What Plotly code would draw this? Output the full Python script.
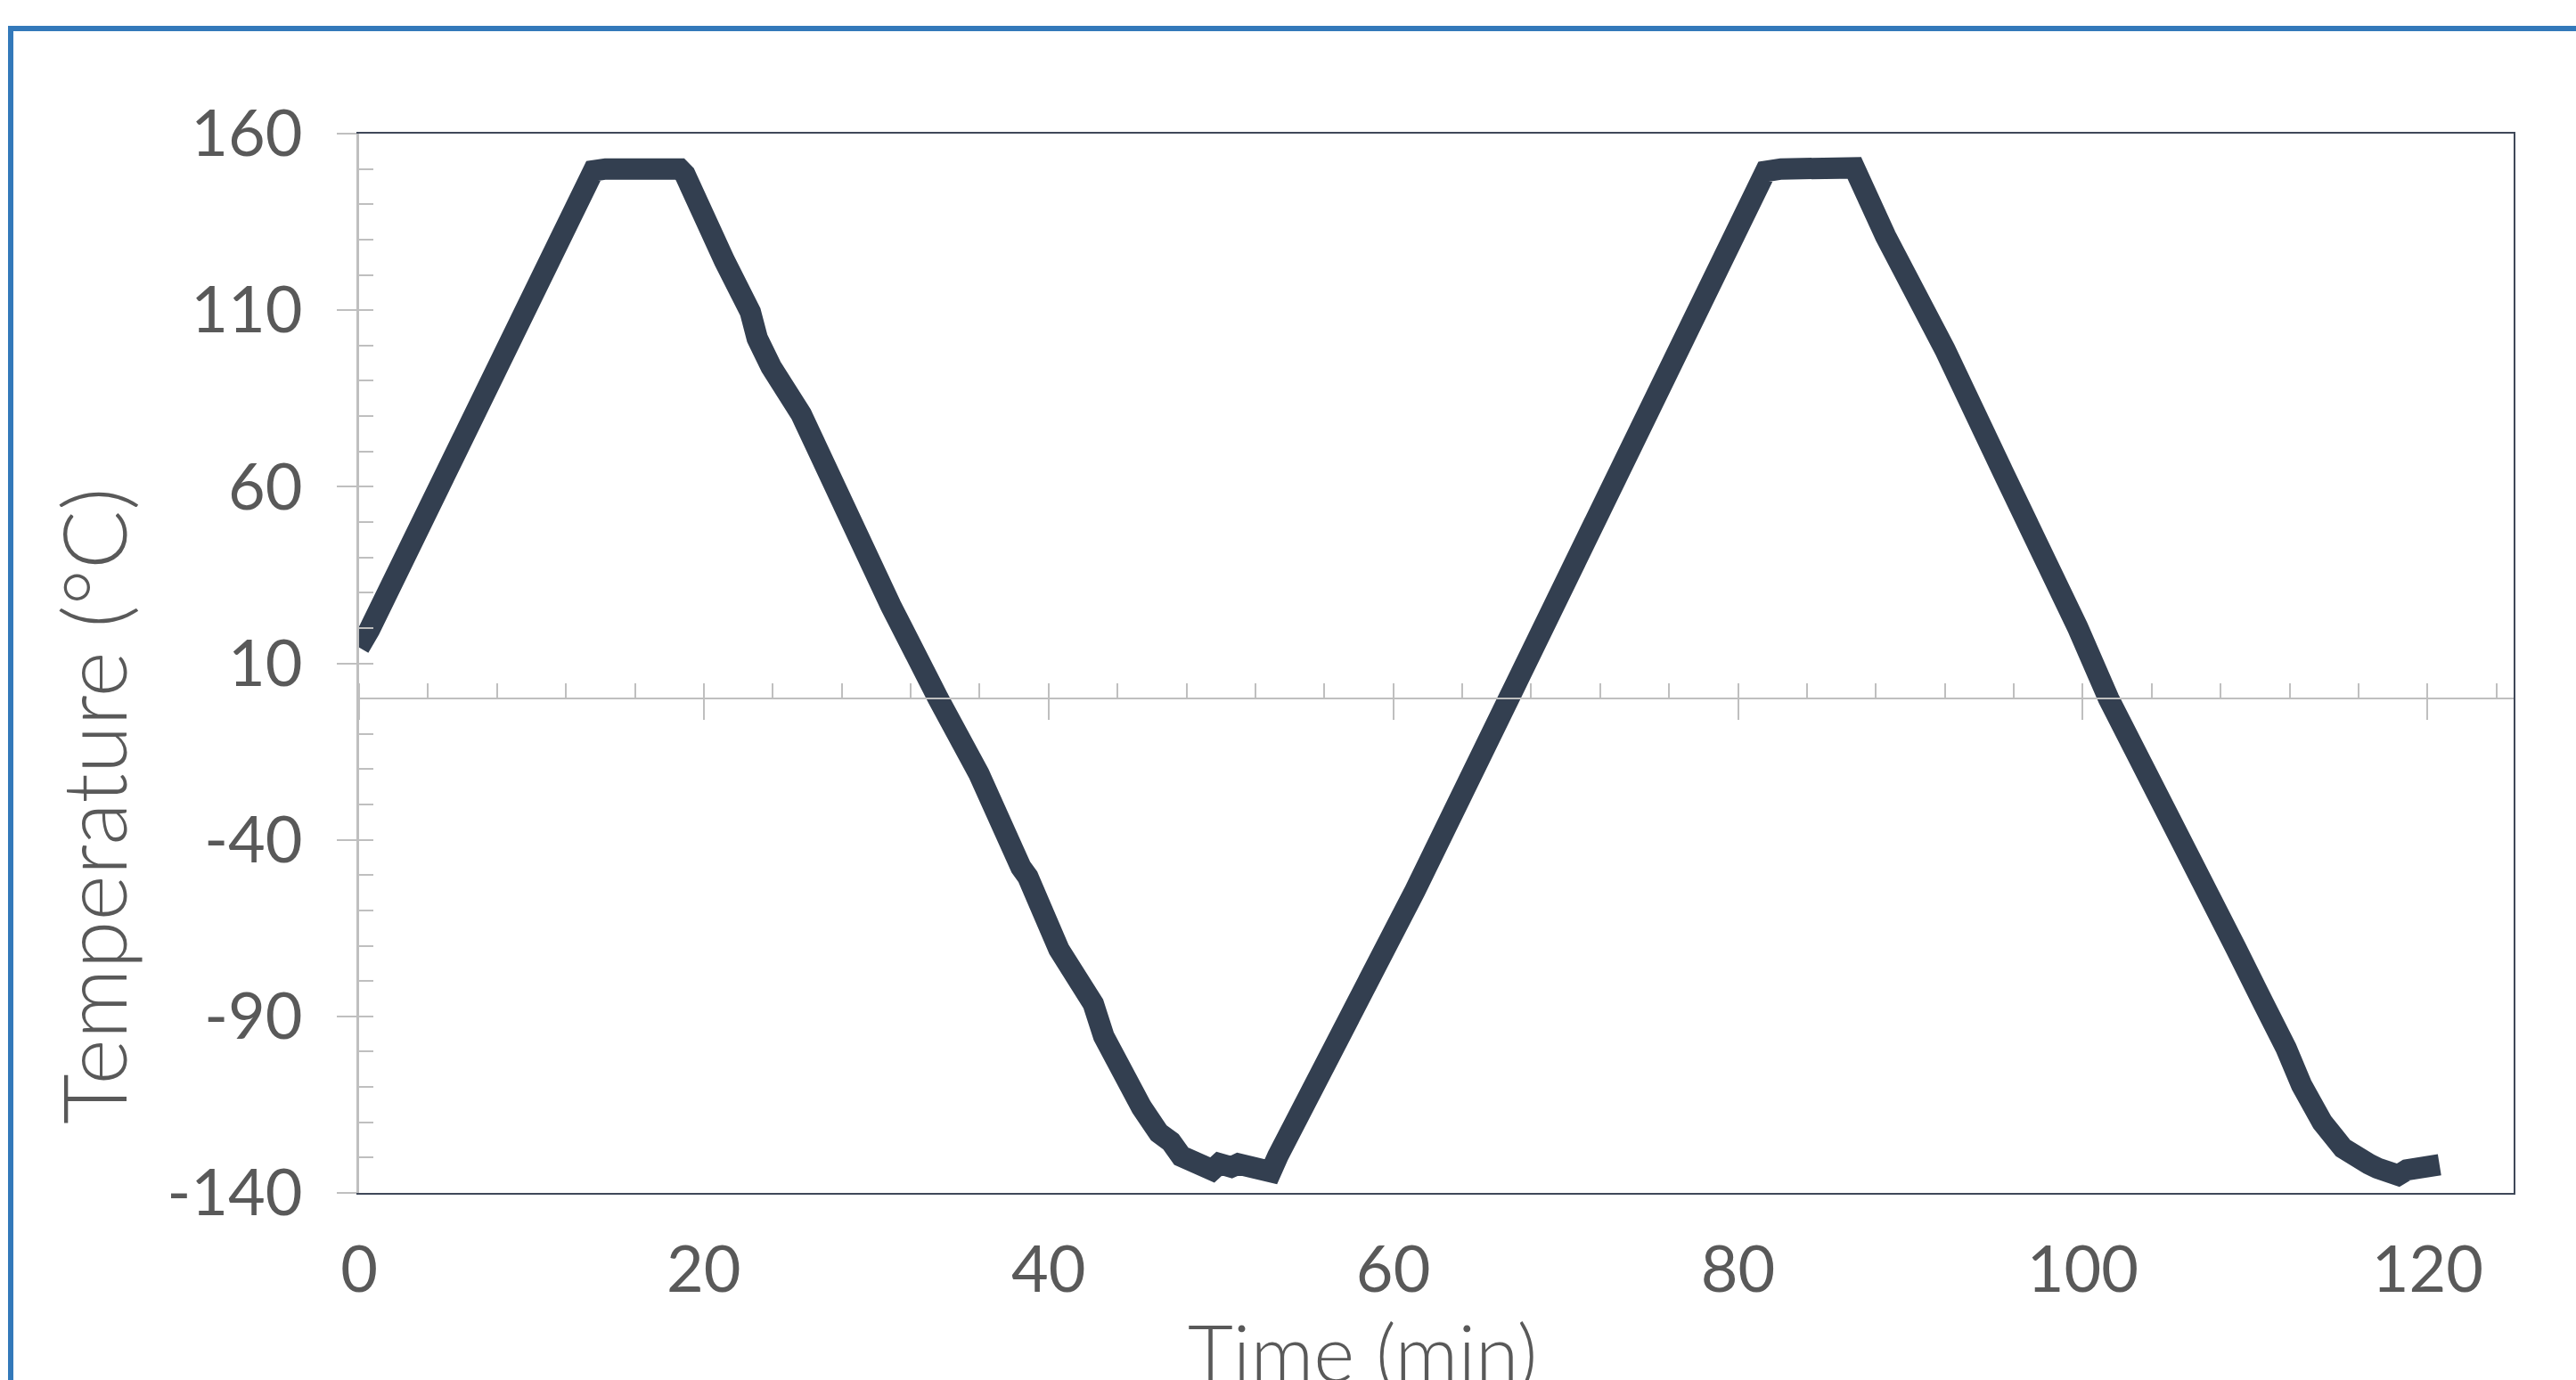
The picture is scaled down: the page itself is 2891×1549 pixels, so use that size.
import plotly.graph_objects as go

# ---- data ----
time_min = [0, 0.6, 13.6, 14.3, 18.6, 18.9, 21.2, 22.2, 22.7, 23.1, 23.9, 25.65, 28.1, 30.85,
            33.6, 35.96, 38.4, 38.8, 40.6, 42.2, 42.6, 43.2, 44.2, 45.4, 46.4, 47.1, 47.7,
            48.3, 48.9, 49.5, 49.9, 50.3, 50.6, 51.0, 51.4, 52.0, 52.5, 52.9, 53.3, 54.5,
            55.2, 55.7, 57.0, 58.3, 60.0, 61.25, 66.7, 81.6, 82.5, 86.75, 88.56, 92.0,
            95.45, 98.9, 99.7, 101.5, 103.1, 106.5, 107.2, 108.9, 110.5, 111.0, 111.8, 112.7,
            113.9, 115.1, 116.1, 116.6, 117.1, 117.8, 118.3, 118.8, 119.4, 120.0, 120.7]
temp_c = [14.5, 19.5, 149.5, 150, 150, 148.5, 124, 115, 109.5, 102, 94, 80.5, 54.4, 26.3,
          0, -21.3, -47.8, -50.5, -71, -85, -86.5, -95.6, -106, -115.8, -123, -125.5, -129.6,
          -131, -132.7, -133.5, -131.7, -133, -132.7, -131.8, -132.2, -133, -133.8, -134,
          -129.6, -118.7, -112, -106, -94, -82, -66, -54.5, 0, 149.3, 150, 150.3, 131,
          98.9, 63.4, 29.6, 20.2, 0, -16, -50, -54, -70.8, -86.5, -90.7, -99, -109.5,
          -120, -127.3, -131.5, -131.8, -133, -133.5, -135, -133.5, -133.5, -132.5, -132]

x_range = [0, 125]
y_range = [-140, 160]
y_tick_vals = [-140, -90, -40, 10, 60, 110, 160]
y_tick_text = ["-140", "-90", "-40", "10", "60", "110", "160"]
x_title = "Time (min)"
y_title = "Temperature (°C)"

# ---- styles ----
W, H = 2891, 1549
ML, MR, MT, MB = 403, 70, 150, 210
PW, PH = W - ML - MR, H - MT - MB
LINE = "#333F50"
GRAY = "#BFBFBF"
FRAME = "#3F4859"
TXT = "#595959"
FONT = "Lato"

def px_x(px):
    return (px - ML) / PW

def px_y(py):
    return (H - MB - py) / PH

y_minor_vals = [v for v in range(-140, 161, 10) if v not in y_tick_vals]

fig = go.Figure()
fig.add_trace(go.Scatter(x=time_min, y=temp_c, mode="lines",
                         line=dict(color=LINE, width=24), showlegend=False,
                         hoverinfo="x+y"))

tickfont = dict(family=FONT, size=72, color=TXT, weight=400)
x_axis_pos = (0 - y_range[0]) / (y_range[1] - y_range[0])

fig.update_layout(
    width=W, height=H,
    margin=dict(l=ML, r=MR, t=MT, b=MB, pad=0),
    paper_bgcolor="white", plot_bgcolor="white",
    showlegend=False,
    xaxis=dict(range=x_range, tick0=0, dtick=20, ticks="", showline=True,
               linecolor=FRAME, linewidth=2, mirror=True, showgrid=False,
               zeroline=False, tickfont=tickfont, ticklabelstandoff=23),
    xaxis2=dict(range=x_range, overlaying="x", anchor="free", position=x_axis_pos,
                tick0=0, dtick=20, ticks="outside", ticklen=23, tickwidth=2,
                tickcolor=GRAY, showline=True, linecolor=GRAY, linewidth=2,
                showticklabels=False, showgrid=False, zeroline=False,
                minor=dict(ticks="inside", dtick=4, tick0=0, ticklen=16,
                           tickwidth=2, tickcolor=GRAY, showgrid=False)),
    xaxis3=dict(range=x_range, overlaying="x", anchor="free", position=x_axis_pos,
                tick0=0, dtick=20, ticks="inside", ticklen=16, tickwidth=2,
                tickcolor=GRAY, showline=False, showticklabels=False,
                showgrid=False, zeroline=False),
    yaxis=dict(range=y_range, tickmode="array", tickvals=y_tick_vals,
               ticktext=y_tick_text, ticks="outside", ticklen=22,
               tickwidth=2, tickcolor=GRAY, showline=True, linecolor=GRAY,
               linewidth=3, showgrid=False, zeroline=False, tickfont=tickfont,
               ticklabelstandoff=24,
               minor=dict(ticks="inside", tickmode="array", tickvals=y_minor_vals,
                          ticklen=16, tickwidth=2, tickcolor=GRAY, showgrid=False)),
    yaxis2=dict(range=y_range, overlaying="y", anchor="x", side="left",
                tickmode="array", tickvals=y_tick_vals, ticks="inside", ticklen=16,
                tickwidth=2, tickcolor=GRAY, showline=False, showticklabels=False,
                showgrid=False, zeroline=False),
    yaxis3=dict(range=y_range, overlaying="y", anchor="x", side="right",
                ticks="", showline=True, linecolor=FRAME, linewidth=2,
                showticklabels=False, showgrid=False, zeroline=False),
)

# invisible traces to bind the helper axes
fig.add_trace(go.Scatter(x=[None], y=[None], xaxis="x2", yaxis="y2",
                         showlegend=False, hoverinfo="skip"))
fig.add_trace(go.Scatter(x=[None], y=[None], xaxis="x3", yaxis="y3",
                         showlegend=False, hoverinfo="skip"))

fig.add_annotation(text=y_title, textangle=-90, xref="paper", yref="paper",
                   x=px_x(104), y=px_y(905), xanchor="center", yanchor="middle",
                   showarrow=False, font=dict(family=FONT, size=98, color=TXT, weight=300))
fig.add_annotation(text=x_title, xref="paper", yref="paper",
                   x=px_x(1529), y=px_y(1517), xanchor="center", yanchor="middle",
                   showarrow=False, font=dict(family=FONT, size=88, color=TXT, weight=300))

# outer blue frame
fig.add_shape(type="rect", xref="paper", yref="paper",
              x0=px_x(12), y0=px_y(1600), x1=px_x(2960), y1=px_y(32),
              line=dict(color="#3379BA", width=6), fillcolor="rgba(0,0,0,0)",
              layer="below")

fig.write_html("out.html", config={"displayModeBar": False},
               post_script="document.body.style.margin='0px';")
